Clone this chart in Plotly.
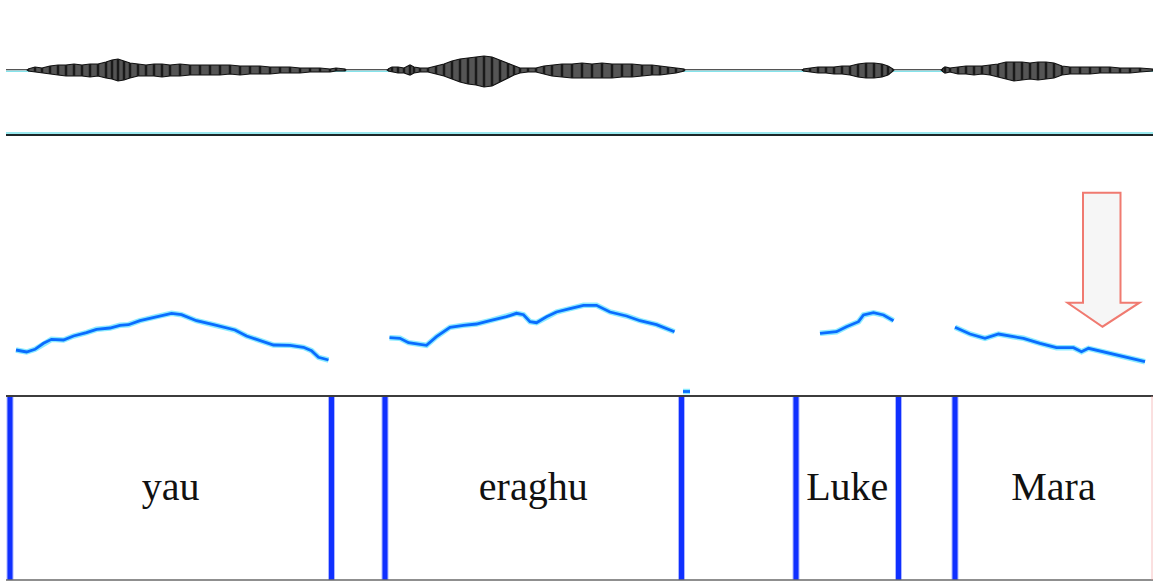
import plotly.graph_objects as go

# ---- time axis (seconds) -------------------------------------------------
duration = 2.294

# ---- waveform envelope: time, upper and lower amplitude ------------------
wave_t = [0.044, 0.058, 0.072, 0.088, 0.104, 0.120, 0.136, 0.152, 0.168, 0.184,
          0.200, 0.212, 0.224, 0.236, 0.248, 0.264, 0.280, 0.296, 0.312, 0.328,
          0.348, 0.368, 0.388, 0.408, 0.428, 0.448, 0.468, 0.488, 0.508, 0.528,
          0.548, 0.568, 0.588, 0.608, 0.628, 0.648, 0.660, 0.678,
          0.764, 0.772, 0.784, 0.796, 0.808, 0.816, 0.828, 0.844, 0.860, 0.876,
          0.892, 0.908, 0.924, 0.940, 0.956, 0.972, 0.988, 1.004, 1.016, 1.028,
          1.044, 1.060, 1.076, 1.092, 1.112, 1.132, 1.152, 1.172, 1.192, 1.212,
          1.232, 1.252, 1.272, 1.292, 1.308, 1.324, 1.340, 1.356,
          1.594, 1.608, 1.624, 1.640, 1.656, 1.672, 1.688, 1.704, 1.720, 1.736,
          1.752, 1.764, 1.774,
          1.872, 1.878, 1.888, 1.904, 1.920, 1.936, 1.952, 1.968, 1.984, 2.000,
          2.016, 2.032, 2.048, 2.064, 2.080, 2.096, 2.112, 2.128, 2.148, 2.168,
          2.188, 2.208, 2.228, 2.248, 2.268, 2.294]
wave_hi = [0.01, 0.03, 0.02, 0.04, 0.05, 0.05, 0.06, 0.05, 0.06, 0.06,
           0.08, 0.10, 0.11, 0.09, 0.07, 0.06, 0.05, 0.06, 0.06, 0.05,
           0.06, 0.05, 0.05, 0.05, 0.05, 0.05, 0.04, 0.04, 0.04, 0.03,
           0.03, 0.03, 0.02, 0.02, 0.02, 0.01, 0.02, 0.01,
           0.01, 0.03, 0.03, 0.02, 0.05, 0.03, 0.02, 0.02, 0.04, 0.06,
           0.09, 0.11, 0.12, 0.13, 0.14, 0.13, 0.10, 0.07, 0.04, 0.02,
           0.02, 0.02, 0.04, 0.05, 0.06, 0.06, 0.07, 0.06, 0.07, 0.06,
           0.06, 0.06, 0.05, 0.05, 0.04, 0.03, 0.02, 0.01,
           0.01, 0.02, 0.03, 0.03, 0.03, 0.04, 0.04, 0.06, 0.07, 0.07,
           0.06, 0.04, 0.01,
           0.01, 0.03, 0.02, 0.03, 0.04, 0.04, 0.04, 0.05, 0.06, 0.08,
           0.08, 0.08, 0.07, 0.08, 0.08, 0.07, 0.04, 0.03, 0.03, 0.03,
           0.03, 0.03, 0.02, 0.02, 0.02, 0.01]
wave_lo = [0.01, 0.02, 0.03, 0.04, 0.05, 0.06, 0.06, 0.06, 0.07, 0.06,
           0.08, 0.09, 0.11, 0.10, 0.08, 0.06, 0.06, 0.06, 0.07, 0.06,
           0.06, 0.05, 0.05, 0.05, 0.05, 0.04, 0.05, 0.04, 0.04, 0.04,
           0.03, 0.03, 0.03, 0.02, 0.02, 0.02, 0.01, 0.01,
           0.01, 0.02, 0.03, 0.03, 0.05, 0.03, 0.02, 0.02, 0.04, 0.06,
           0.09, 0.12, 0.14, 0.15, 0.17, 0.16, 0.12, 0.08, 0.05, 0.03,
           0.02, 0.02, 0.04, 0.06, 0.07, 0.08, 0.08, 0.08, 0.08, 0.08,
           0.07, 0.07, 0.06, 0.05, 0.05, 0.04, 0.03, 0.01,
           0.01, 0.02, 0.03, 0.03, 0.04, 0.04, 0.05, 0.07, 0.08, 0.08,
           0.07, 0.05, 0.01,
           0.01, 0.03, 0.02, 0.04, 0.04, 0.05, 0.04, 0.05, 0.07, 0.09,
           0.11, 0.10, 0.09, 0.10, 0.09, 0.08, 0.05, 0.04, 0.04, 0.04,
           0.03, 0.03, 0.03, 0.03, 0.02, 0.01]

# ---- pitch track (Hz); None marks unvoiced gaps --------------------------
pitch_t = [0.020, 0.041, 0.058, 0.075, 0.091, 0.115, 0.135, 0.161, 0.181, 0.208,
           0.228, 0.245, 0.268, 0.301, 0.331, 0.351, 0.381, 0.415, 0.458, 0.481,
           0.508, 0.535, 0.568, 0.595, 0.611, 0.625, 0.645, None,
           0.767, 0.788, 0.805, 0.825, 0.841, 0.861, 0.888, 0.915, 0.941, 0.968,
           1.001, 1.021, 1.035, 1.048, 1.061, 1.081, 1.101, 1.128, 1.155, 1.181,
           1.208, 1.241, 1.268, 1.301, 1.337, None,
           1.354, 1.368, None,
           1.628, 1.661, 1.681, 1.705, 1.715, 1.735, 1.755, 1.775, None,
           1.898, 1.928, 1.958, 1.985, 2.015, 2.035, 2.068, 2.101, 2.135, 2.151,
           2.165, 2.215, 2.278]
pitch_hz = [96.0, 94.0, 96.7, 102.7, 106.7, 106.0, 110.0, 113.3, 116.7, 118.0,
            120.7, 121.3, 125.3, 129.3, 132.7, 131.3, 125.3, 121.3, 116.0, 110.0,
            105.3, 101.0, 100.7, 98.7, 95.3, 88.7, 86.0, None,
            108.3, 107.7, 103.3, 102.0, 100.7, 109.3, 118.7, 120.7, 122.0, 125.3,
            129.3, 132.7, 131.3, 124.3, 123.3, 129.3, 134.0, 137.3, 140.7, 140.7,
            134.0, 130.0, 125.3, 121.3, 114.3, None,
            54.5, 54.5, None,
            112.7, 114.3, 119.3, 124.3, 131.0, 133.3, 131.0, 125.3, None,
            118.7, 112.0, 107.7, 112.0, 109.3, 107.7, 102.7, 98.3, 98.3, 94.3,
            97.7, 92.0, 84.3]

# ---- text tier -------------------------------------------------------------
boundaries = [0.008, 0.651, 0.758, 1.351, 1.580, 1.785, 1.898]
tier_end = 2.292
words = ["yau", "eraghu", "Luke", "Mara"]
word_spans = [(0.008, 0.651), (0.758, 1.351), (1.580, 1.785), (1.898, 2.292)]

W, H = 1153, 582
fig = go.Figure()

# waveform: zero line, then each voiced chunk as a filled envelope
fig.add_trace(go.Scatter(x=[0, duration], y=[-0.012, -0.012], mode="lines",
                         line=dict(color="rgba(0,200,215,0.7)", width=1),
                         xaxis="x", yaxis="y", hoverinfo="skip"))
fig.add_trace(go.Scatter(x=[0, duration], y=[0.004, 0.004], mode="lines",
                         line=dict(color="#555555", width=1.2),
                         xaxis="x", yaxis="y", hoverinfo="skip"))
chunks, cur = [], [0]
for i in range(1, len(wave_t)):
    if wave_t[i] - wave_t[i - 1] > 0.05:
        chunks.append(cur)
        cur = []
    cur.append(i)
chunks.append(cur)
for idx in chunks:
    xs = [wave_t[i] for i in idx] + [wave_t[i] for i in reversed(idx)]
    ys = [wave_hi[i] for i in idx] + [-wave_lo[i] for i in reversed(idx)]
    fig.add_trace(go.Scatter(x=xs, y=ys, mode="lines", fill="toself",
                             fillcolor="#555555", line=dict(color="#111111", width=1.2),
                             xaxis="x", yaxis="y", hoverinfo="skip"))

# dark vertical striations at each envelope sample
sx, sy = [], []
for t, hi, lo in zip(wave_t, wave_hi, wave_lo):
    sx += [t, t, None]
    sy += [hi, -lo, None]
fig.add_trace(go.Scatter(x=sx, y=sy, mode="lines",
                         line=dict(color="#1a1a1a", width=2.5),
                         xaxis="x", yaxis="y", hoverinfo="skip"))

# pitch contour with a soft cyan halo
fig.add_trace(go.Scatter(x=pitch_t, y=pitch_hz, mode="lines",
                         line=dict(color="rgba(0,210,255,0.45)", width=5.5),
                         connectgaps=False, xaxis="x", yaxis="y2", hoverinfo="skip"))
fig.add_trace(go.Scatter(x=pitch_t, y=pitch_hz, mode="lines",
                         line=dict(color="#0a6cff", width=2.8),
                         connectgaps=False, xaxis="x", yaxis="y2", hoverinfo="skip"))

# tier boundaries
bx, by = [], []
for b in boundaries:
    bx += [b, b, None]
    by += [0, 1, None]
fig.add_trace(go.Scatter(x=bx, y=by, mode="lines",
                         line=dict(color="rgba(90,110,255,0.5)", width=7),
                         xaxis="x", yaxis="y3", hoverinfo="skip"))
fig.add_trace(go.Scatter(x=bx, y=by, mode="lines",
                         line=dict(color="#1030ff", width=5),
                         xaxis="x", yaxis="y3", hoverinfo="skip"))

# interval labels
fig.add_trace(go.Scatter(x=[(a + b) / 2 for a, b in word_spans], y=[0.49] * len(words),
                         mode="text", text=words,
                         textfont=dict(family="Liberation Serif", size=40, color="#111111"),
                         xaxis="x", yaxis="y3", hoverinfo="skip"))

shapes = [
    # bottom border of the waveform pane
    dict(type="line", xref="x domain", yref="paper", x0=0, x1=1,
         y0=1 - 133 / H, y1=1 - 133 / H, line=dict(color="rgba(0,200,215,0.8)", width=1)),
    dict(type="line", xref="x domain", yref="paper", x0=0, x1=1,
         y0=1 - 135 / H, y1=1 - 135 / H, line=dict(color="#1c2628", width=2)),
    # tier frame
    dict(type="line", xref="x domain", yref="y3 domain", x0=0, x1=1, y0=1, y1=1,
         line=dict(color="#3c3c3c", width=2)),
    dict(type="line", xref="x domain", yref="y3 domain", x0=0, x1=1, y0=0, y1=0,
         line=dict(color="#6a6a6a", width=1.5)),
    dict(type="line", xref="x", yref="y3 domain", x0=tier_end, x1=tier_end, y0=0, y1=1,
         line=dict(color="rgba(240,150,150,0.6)", width=1)),
    # callout arrow above the final contour
    dict(type="path", xref="x", yref="y2",
         path="M 2.154 253.3 L 2.229 253.3 L 2.229 143.3 L 2.267 143.3 "
              "L 2.193 119.3 L 2.123 143.3 L 2.154 143.3 Z",
         fillcolor="#f6f6f6", line=dict(color="#f07a70", width=2)),
]

fig.update_layout(
    width=W, height=H, margin=dict(l=0, r=0, t=0, b=0),
    paper_bgcolor="white", plot_bgcolor="white", showlegend=False,
    shapes=shapes,
    xaxis=dict(range=[0, duration], domain=[6 / W, 1], visible=False, fixedrange=True),
    yaxis=dict(range=[-0.64, 0.64], domain=[1 - 134 / H, 1 - 6 / H], visible=False),
    yaxis2=dict(range=[50, 296], domain=[1 - 396 / H, 1 - 150 / H], visible=False),
    yaxis3=dict(range=[0, 1], domain=[1 - 580 / H, 1 - 396 / H], visible=False),
)

fig.write_html("out.html")
